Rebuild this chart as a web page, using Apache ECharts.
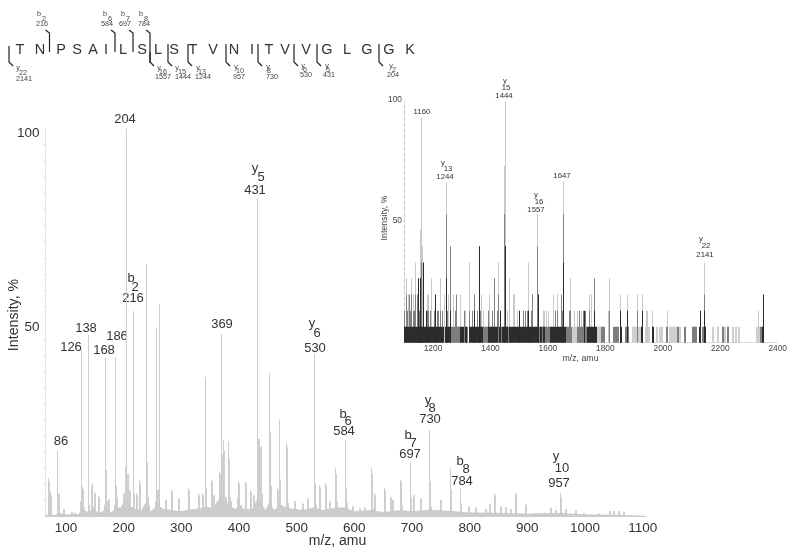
<!DOCTYPE html>
<html style="height: 100%">
<head>
<meta charset="utf-8">
</head>
<body style="height: 100%; margin: 0; background: #fff">
<div id="container" style="width: 800px; height: 557px"></div>
<script type="text/javascript" src="https://cdn.jsdelivr.net/npm/echarts@6/dist/echarts.min.js"></script>
<script type="text/javascript">
// main spectrum, [m/z, intensity %]
var mainSticks = [[69,10],[73,6.4],[85,17],[125.5,43.4],[128,7.7],[138,46.8],[144.5,8.6],[149,6.4],[156,5.3],
  [167,41],[168,18],[185,41],[203.5,100],[204,13.3],[210,7],[216,53],[221,6],[227,9.5],[238,65],[239,17.6],
  [256,48.6],[261,54.7],[282,7],[311,7.3],[329,6],[335,6],[340.5,36],[352,9.5],[365,11.6],[369,47],[373,19.7],
  [381.5,19.4],[399,9.2],[410,9],[419,6.7],[431,82],[432,21.5],[435,20],[452,37],[453,21.7],[465,7.3],[469.5,25],
  [482,19],[530,42],[539,8],[549,8.6],[566,12.5],[583,19.8],[628,12.5],[634,6],[652,7.4],[679,9.5],[697,14.2],
  [730,22.3],[766,12.5],[783.4,7.3],[842,6],[879,6.2],[896,3.3],[956,6.2]];
var mainGrass = [[65,0.3],[68,4],[69,9],[70,2],[72,5.5],[74,0.5],[82,0.5],[84,5.5],[85,3],[86,6],[88,0.8],[93,0.5],[95,2],[97,0.5],
  [104,0.5],[108,1.2],[110,0.6],[113,1],[118,0.5],[123,0.8],[125,4],[127,7],[129,2.5],[131,1.2],[133,1.5],[136,0.8],[138,3],[140,0.8],
  [144,8],[146,2.5],[149,6],[151,1.2],[154,1],[156,5],[158,1],[163,1],[166,3],[168,12],[170,4],[172,4.5],[174,1.2],[178,0.8],[181,1.5],
  [183,3],[185,8],[187,5],[189,1.5],[193,1.5],[196,3],[198,6],[200,5],[203,13],[205,11],[207,3],[210,6.5],[212,2.5],[216,6],[218,2],
  [221,5.5],[223,1.8],[227,8.5],[229,1.5],[232,1],[235,2.5],[238,14],[240,5],[242,3],[245,0.8],[250,1.5],[254,4],[257,7],[260,6],[263,2.5],
  [267,1.5],[272,4.3],[275,1.2],[279,1.5],[282,6.5],[284,1.5],[288,1],[292,1.5],[295,4.6],[298,1.5],[302,0.8],[306,1.2],[311,6.8],[314,1.5],
  [318,0.8],[323,1.5],[326,2],[329,5.5],[332,2],[335,5.5],[337,2],[341,7.5],[344,2.5],[348,2],[352,9],[354,3],[355,5.5],[358,1.8],[362,3],
  [365,11],[367,7],[369,16],[371,8],[373,17],[375,5],[378,3.5],[381,15],[383,5],[385,4],[388,1.5],[392,1.5],[396,5],[399,8.5],[402,3],
  [405,1.5],[410,8.5],[412,2],[416,1.5],[419,6.2],[421,2],[425,5.5],[427,2],[431,20],[433,11],[436,18],[438,6],[441,2],[445,1],[449,2],
  [452,20],[454,8],[457,2],[461,1.5],[465,6.8],[467,3],[470,9.5],[472,3],[476,1.5],[479,2.5],[482,18],[484,3.5],[488,1.2],[492,2],[495,4],
  [498,2],[503,1],[507,1.5],[510,3.4],[513,1.2],[518,4.7],[521,2],[525,2],[530,8.5],[532,3],[535,1.5],[539,7.5],[541,1.5],[545,1.5],[549,8],
  [551,2],[556,4],[559,1.2],[563,2],[566,11],[568,4],[572,1],[577,1],[583,7.3],[585,3.5],[589,0.8],[593,1.5],[595.5,2.7],[598,1.2],[603,0.8],
  [608,2.1],[611,1],[617,2.4],[620,1],[625,1.5],[628,11],[630,2],[634,5.5],[636,1],[642,0.6],[648,0.8],[652,6.8],[654,1.2],[658,1],[662,5],
  [665,4.3],[668,1.5],[673,1],[679,9],[681,3],[685,1],[690,0.8],[694,1.5],[697,5],[699,1.5],[701,5.5],[704,1],[709,1],[714,4.6],[716,1.5],
  [722,0.8],[727,1.5],[730,9],[732,2.5],[738,1],[744,1.2],[748.6,4.3],[751,1],[757,0.8],[762,1.5],[766,7],[768,1.5],[775,1.2],[780,1],
  [783.4,3.5],[786,1],[792,0.6],[797,2.6],[799,0.7],[804,0.6],[809.4,2.4],[812,0.7],[820,0.6],[827,2],[829,0.6],[834,3.3],[836,0.6],[842,5.5],
  [844,0.8],[849,0.6],[853,2.7],[856,0.6],[861.4,2.4],[864,0.6],[870,2],[872,0.6],[879,5.8],[881,0.7],[890,0.5],[896,3],[898,0.6],[906,0.4],
  [913.5,1],[920,0.5],[928,1],[934,0.5],[939.5,2.4],[942,0.5],[948,1.7],[950,0.6],[956,5],[958,1],[965.5,2],[968,0.5],[975,0.4],[983,1.7],
  [986,0.3],[997,0.9],[1005,0.3],[1014,0.5],[1023,0.8],[1032,0.3],[1041,1.5],[1044,0.3],[1049,1.4],[1052,0.3],[1057,1.5],[1060,0.3],
  [1065.5,1.3],[1069,0.2],[1078,0.3],[1087,0.4],[1095,0.2],[1104,0.1]];
// low noise floor under the sticks
var mainFloor = [[65,0.4],[82,0.4],[88,0.8],[100,0.5],[122,0.6],[128,1.8],[136,0.9],[146,1.6],[160,0.9],[170,2.2],[178,0.9],[188,2.4],[196,2.2],
  [204,4.5],[210,2.2],[220,1.8],[230,1.5],[238,3.4],[246,1.2],[258,2.8],[268,1.9],[285,1.6],[298,1.3],[312,1.7],[330,2],[342,2.4],[355,2.2],[368,5],
  [374,4.2],[382,3.2],[392,1.9],[402,2.4],[412,1.8],[424,1.9],[432,4.5],[438,3.4],[446,1.5],[453,3.8],[460,1.7],[470,2.4],[482,2.5],[494,1.8],
  [510,1.7],[520,1.9],[530,2.3],[545,1.6],[566,2.2],[583,2.3],[600,1.3],[628,1.6],[650,1.1],[680,1.6],[700,1.3],[730,1.7],[766,1.4],[800,1],
  [850,0.9],[900,0.7],[956,0.9],[1000,0.5],[1060,0.4],[1104,0.1]];
var mainXTicks = [100, 200, 300, 400, 500, 600, 700, 800, 900, 1000, 1100];

// inset spectrum: low band of single-count peaks, three grey tones
var bandDark = [1100,1106,1113,1120,1127,1134,1141,1148,1155,1162,1169,1176,1183,1190,1197,1205,1212,1219,1226,1233,1240,1247,1254,
  1295,1302,1310,1325,1332,1339,1346,1353,1360,1367,1393,1400,1407,1414,1421,1428,1440,1447,1454,1463,1470,1477,1484,1491,1498,1505,
  1512,1520,1527,1534,1541,1548,1555,1562,1572,1584,1608,1615,1622,1629,1636,1643,1650,1657,1736,1743,1750,1757,1763,1852,1925,1963,2125,2143,2344];
var bandMid = [1262,1268,1275,1282,1289,1316,1373,1380,1387,1433,1459,1566,1578,1591,1597,1603,1663,1670,1677,1702,1708,1715,1722,1728,
  1786,1793,1826,1833,1839,1869,1876,2010,2050,2074,2100,2107,2112,2137,2205,2222,2338];
var bandLight = [1684,1690,1696,1767,1773,1779,1810,1892,1899,1906,1913,1920,1938,1949,1978,1985,1992,2022,2029,2036,2043,2058,2170,
  2187,2212,2240,2251,2262,2326,2332];
// taller sticks: the same m/z is repeated in each tone, lower tones cover the upper ones
var insetLight = [[1105,26.7],[1124,26.7],[1138,33.3],[1156,46.7],[1159,93.3],[1162,40],[1180,20],[1194,26.7],[1226,26.7],[1238,20],
  [1244,66.7],[1294,20],[1327,33.3],[1367,20],[1394,20],[1427,33.3],[1447,73.3],[1451,100],[1465,26.7],[1482,20],[1529,33.3],[1561,53.3],
  [1587,13.3],[1599,13.3],[1618,20],[1633,20],[1653,66.7],[1676,26.7],[1700,13.3],[1715,13.3],[1749,20],[1744,20],[1814,26.7],[1850,20],[1875,20],
  [1926,20],[1946,13.3],[1964,13.3],[2014,13.3],[2143,33.3],[2331,13.3],[1113,20],[1130,20],[1184,20],[1252,20],[1268,20],[1310,13.3],
  [1375,13.3],[1458,13.3],[1477,20],[1493,13.3],[1584,13.3],[1593,13.3],[1692,13.3],[1810,13.3],[1943,13.3],[1961,13.3],[1909,20]];
var insetMid = [[1099,13.3],[1106,20],[1110,13.3],[1116,20],[1120,13.3],[1124,20],[1130,13.3],[1134,13.3],[1138,20],[1143,20],[1150,13.3],
  [1156,26.7],[1159,33.3],[1178,13.3],[1184,13.3],[1189,13.3],[1204,13.3],[1213,13.3],[1218,13.3],[1224,13.3],[1230,13.3],
  [1244,53.3],[1250,13.3],[1259,40],[1276,13.3],[1279,20],[1308,13.3],[1326,13.3],[1334,13.3],[1341,20],[1354,13.3],[1359,26.7],[1363,13.3],
  [1392,13.3],[1406,13.3],[1414,26.7],[1424,13.3],[1427,20],[1433,13.3],[1447,53.3],[1451,40],[1512,13.3],[1520,13.3],[1526,13.3],[1540,13.3],[1544,20],
  [1561,40],[1567,20],[1625,13.3],[1630,13.3],[1644,20],[1648,13.3],[1653,53.3],[1673,13.3],[1676,13.3],[1709,13.3],[1723,13.3],[1729,13.3],
  [1742,13.3],[1744,13.3],[1761,26.7],[1814,13.3],[1909,13.3],[2143,20]];
var insetDark = [[1147,26.7],[1155,26.7],[1166,33.3],[1175,13.3],[1207,20],[1244,26.7],[1259,13.3],[1341,13.3],[1359,40],[1432,13.3],[1451,40],[1498,13.3],[1529,13.3],
  [1565,20],[1653,33.3],[1724,13.3],[1761,13.3],[1850,13.3],[1875,13.3],[1926,13.3],[2128,13.3],[2143,13.3],[2350,20]];
var insetXTicks = [1200, 1400, 1600, 1800, 2000, 2200, 2400];

// text around the peaks, [x, y, text]
var mainLabels = [[125,119.5,'204'],[255,168,'y'],[261,177,'5'],[255,190,'431'],[131,278,'b'],[135,287,'2'],[133,298,'216'],
  [86,328,'138'],[71,347,'126'],[104,350,'168'],[117,336,'186'],[222,324,'369'],[312,323,'y'],[317,333,'6'],[315,348,'530'],[61,441,'86'],
  [343,414,'b'],[348,421,'6'],[344,431,'584'],[428,400,'y'],[432,408,'8'],[430,419,'730'],[408,435,'b'],[413,443,'7'],[410,454,'697'],
  [460,461,'b'],[466,469,'8'],[462,481,'784'],[556,456,'y'],[562,468,'10'],[559,483,'957']];
var insetLabels = [[422,112,'1160'],[505,81,'y'],[506,88,'15'],[504,96,'1444'],[443,163,'y'],[448,169,'13'],[445,177,'1244'],[562,176,'1647'],
  [536,195,'y'],[539,202,'16'],[536,210,'1557'],[701,239,'y'],[706,246,'22'],[705,255,'2141']];
var seqLetters = [[20,'T'],[40,'N'],[61,'P'],[77,'S'],[93,'A'],[106,'I'],[123,'L'],[142,'S'],[158,'L'],[174,'S'],[193,'T'],[213,'V'],
  [234,'N'],[252,'I'],[269,'T'],[285,'V'],[306,'V'],[327,'G'],[347,'L'],[367,'G'],[389,'G'],[410,'K']];
var seqLabels = [[39,14,'b'],[44,19,'2'],[42,24.5,'216'],[105,14,'b'],[110,19,'6'],[107,24.5,'584'],[123,14,'b'],[128,19,'7'],[125,24.5,'697'],
  [141,14,'b'],[146,19,'8'],[144,24.5,'784'],[18,68,'y'],[23,73,'22'],[24,79,'2141'],[159,68,'y'],[163,72,'16'],[163,77,'1557'],
  [177,68,'y'],[182,72,'15'],[183,77,'1444'],[198,68,'y'],[202,72,'13'],[203,77,'1244'],[236,67,'y'],[240,71,'10'],[239,77,'957'],
  [268,67,'y'],[269,71,'8'],[272,77,'730'],[303,66,'y'],[305,70,'6'],[306,75,'530'],[327,66,'y'],[328,70,'5'],[329,75,'431'],[391,66,'y'],[394,70,'2'],[393,75,'204']];
var bIons = [[49.5,52],[115,52],[133,52],[150,63]];
var yIons = [9,150,168,188,226,258,294,317,379];

var dom = document.getElementById("container");
var myChart = echarts.init(dom);
var fontName = '"Liberation Sans", Arial, sans-serif';

function toMz(list, height) {
    return list.map(function (mz) { return [mz, height]; });
}

function sticks(data, color, width, axis) {
    return {
        type: 'custom',
        xAxisIndex: axis,
        yAxisIndex: axis,
        data: data,
        silent: true,
        renderItem: function (params, api) {
            var bottom = api.coord([api.value(0), 0]);
            var top = api.coord([api.value(0), api.value(1)]);
            return {
                type: 'rect',
                shape: { x: Math.round(bottom[0]), y: top[1], width: width, height: bottom[1] - top[1] },
                style: { fill: color }
            };
        }
    };
}

function textItems(list, size, color) {
    return list.map(function (t) {
        return {
            type: 'text', x: t[0], y: t[1], silent: true,
            style: { text: t[2], fill: color, font: size + 'px ' + fontName, align: 'center', verticalAlign: 'middle' }
        };
    });
}

var graphics = [];
graphics = graphics.concat(textItems(mainLabels, 13, '#333'));
graphics = graphics.concat(textItems(insetLabels, 7.8, '#333'));
graphics = graphics.concat(textItems(seqLabels, 7.2, '#444'));
seqLetters.forEach(function (l) {
    graphics.push({ type: 'text', x: l[0], y: 50, silent: true,
        style: { text: l[1], fill: '#333', font: '14.5px ' + fontName, align: 'center', verticalAlign: 'middle' } });
});
bIons.forEach(function (b) {
    graphics.push({ type: 'polyline', silent: true, shape: { points: [[b[0] - 4, 30], [b[0], 33], [b[0], b[1]]] },
        style: { stroke: '#222', lineWidth: 1.2, fill: null } });
});
yIons.forEach(function (x) {
    var top = x === 150 ? 52 : (x === 9 ? 46 : 44);
    graphics.push({ type: 'polyline', silent: true, shape: { points: [[x, top], [x, 62], [x + 4, 66]] },
        style: { stroke: '#222', lineWidth: 1.2, fill: null } });
});
graphics.push({ type: 'text', x: 337.5, y: 541.5, silent: true,
    style: { text: 'm/z, amu', fill: '#333', font: '14px ' + fontName, align: 'center', verticalAlign: 'middle' } });
graphics.push({ type: 'text', x: 14, y: 315, rotation: Math.PI / 2, silent: true,
    style: { text: 'Intensity, %', fill: '#333', font: '14.2px ' + fontName, align: 'center', verticalAlign: 'middle' } });
graphics.push({ type: 'text', x: 580.5, y: 359, silent: true,
    style: { text: 'm/z, amu', fill: '#444', font: '8.8px ' + fontName, align: 'center', verticalAlign: 'middle' } });
graphics.push({ type: 'text', x: 385, y: 218, rotation: Math.PI / 2, silent: true,
    style: { text: 'Intensity, %', fill: '#444', font: '8.8px ' + fontName, align: 'center', verticalAlign: 'middle' } });

var plainNumber = function (v) { return String(v); };

var option = {
    animation: false,
    backgroundColor: '#fff',
    grid: [
        { left: 45.5, top: 128.5, width: 599.5, height: 388.2 },
        { left: 404, top: 101.7, width: 374, height: 241 }
    ],
    xAxis: [
        {
            type: 'value', gridIndex: 0, min: 64.4, max: 1104, splitLine: { show: false },
            axisLine: { onZero: false, lineStyle: { color: '#c8c8c8' } },
            axisTick: { show: false },
            axisLabel: { customValues: mainXTicks, formatter: plainNumber, color: '#333', fontSize: 13.5, fontFamily: fontName, margin: 5 }
        },
        {
            type: 'value', gridIndex: 1, min: 1099, max: 2401, splitLine: { show: false },
            axisLine: { onZero: false, lineStyle: { color: '#ddd' } },
            axisTick: { show: false },
            axisLabel: { customValues: insetXTicks, formatter: plainNumber, color: '#444', fontSize: 8.4, fontFamily: fontName, margin: 2 }
        }
    ],
    yAxis: [
        {
            type: 'value', gridIndex: 0, min: 0, max: 100, interval: 50, splitLine: { show: false },
            axisLine: { show: true, lineStyle: { color: '#e6e6e6' } },
            axisTick: { show: false },
            minorTick: { show: true, splitNumber: 12, length: 2, lineStyle: { color: '#ddd' } },
            axisLabel: {
                color: '#333', fontSize: 13.5, fontFamily: fontName, margin: 6, verticalAlign: 'top', lineHeight: 10,
                formatter: function (v) { return v === 0 ? '' : v; }
            }
        },
        {
            type: 'value', gridIndex: 1, min: 0, max: 100, interval: 50, splitLine: { show: false },
            axisLine: { show: true, lineStyle: { color: '#ccc', type: 'dashed' } },
            axisTick: { show: false },
            axisLabel: {
                color: '#444', fontSize: 8.4, fontFamily: fontName, margin: 2, verticalAlign: 'bottom', lineHeight: 4,
                formatter: function (v) { return v === 0 ? '' : v; }
            }
        }
    ],
    series: [
        {
            type: 'line', xAxisIndex: 0, yAxisIndex: 0, data: mainFloor, symbol: 'none', silent: true,
            lineStyle: { color: '#c6c6c6', width: 0.6 },
            areaStyle: { color: '#cccccc', opacity: 1 }
        },
        sticks(mainGrass, '#d0d0d0', 2, 0),
        sticks(mainSticks, '#cdcdcd', 1, 0),
        sticks(toMz(bandLight, 6.67), '#cfcfcf', 2, 1),
        sticks(insetLight, '#c8c8c8', 1, 1),
        sticks(toMz(bandMid, 6.67), '#7d7d7d', 2, 1),
        sticks(insetMid, '#808080', 1, 1),
        sticks(toMz(bandDark, 6.67), '#2c2c2c', 2, 1),
        sticks(insetDark, '#2a2a2a', 1, 1)
    ],
    graphic: { elements: graphics }
};

myChart.setOption(option);
</script>
</body>
</html>
